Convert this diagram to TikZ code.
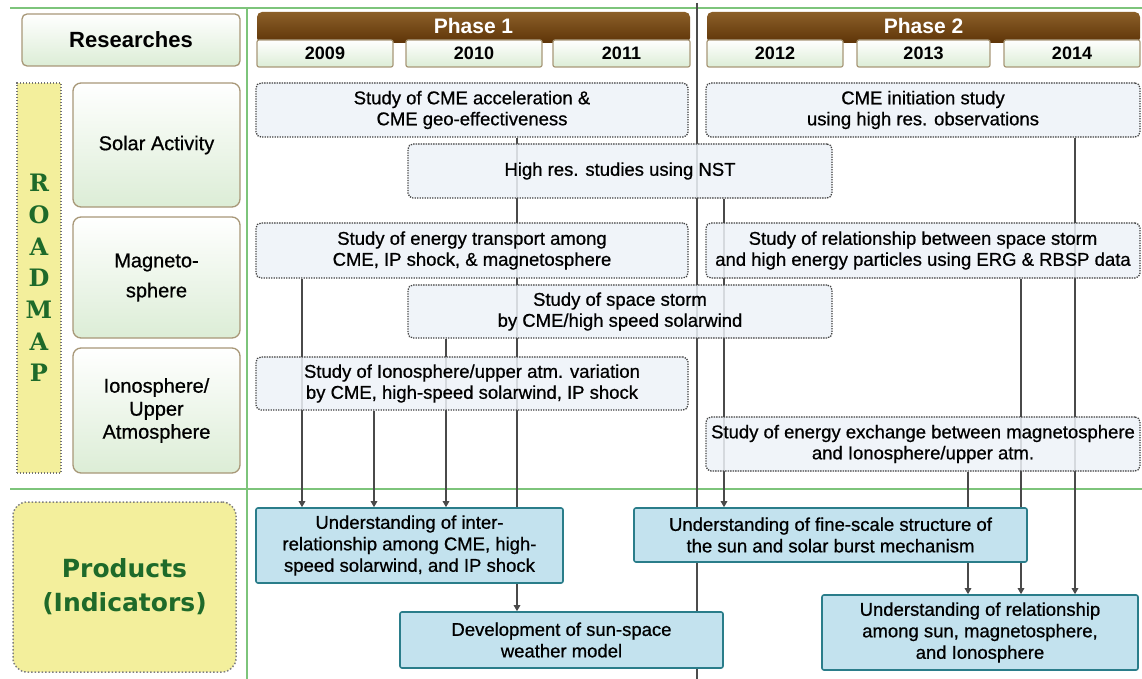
\documentclass[tikz,border=0pt]{standalone}
\usepackage{fontspec}
\setmainfont{Liberation Sans}
\newfontfamily\bxf[BoldFont={Liberation Sans},BoldFeatures={FakeBold=0.7}]{Liberation Sans}
\newfontfamily\rmf{DejaVu Serif}
\newfontfamily\prf{DejaVu Sans}
\usetikzlibrary{arrows.meta}
\pgfdeclarelayer{bgzero}
\pgfdeclarelayer{background}
\pgfsetlayers{bgzero,background,main}
\definecolor{gline}{HTML}{7DC47B}
\definecolor{tanc}{HTML}{A89878}
\definecolor{lgreen}{HTML}{DCEDD6}
\definecolor{rfill}{HTML}{EEF3F9}
\definecolor{pfill}{HTML}{C3E2EE}
\definecolor{pborder}{HTML}{2A7D8A}
\definecolor{yell}{HTML}{F3EF9C}
\definecolor{dgreen}{HTML}{1E6A2A}
\definecolor{brownD}{HTML}{5E3408}
\definecolor{brownL}{HTML}{A4702F}
\definecolor{connc}{HTML}{4A4A4A}
\begin{document}
\begin{tikzpicture}[x=1pt,y=-1pt,
  hdrbox/.style={draw=tanc, line width=1.3pt, rounded corners=5pt, top color=white, bottom color=lgreen, font=\fontsize{22}{24}\selectfont\bfseries, inner sep=0pt},
  yearbox/.style={draw=tanc, line width=1.2pt, rounded corners=2pt, top color=white, bottom color=lgreen, font=\fontsize{18}{20}\selectfont\bfseries, minimum height=27pt, inner sep=0pt},
  phasebar/.style={rounded corners=5pt, top color=brownL!85!black, bottom color=brownD, text=white, font=\fontsize{21}{23}\selectfont\bfseries, inner sep=0pt},
  catbox/.style={draw=tanc, line width=1.3pt, rounded corners=8pt, top color=white, bottom color=lgreen, align=center, font=\bxf\bfseries\fontsize{20}{23}\selectfont, minimum width=167pt, inner sep=0pt},
  rmbar/.style={draw=black!55, line width=1.4pt, dash pattern=on 1.4pt off 1.6pt, fill=yell, align=center, text=dgreen, font=\rmf\bfseries\fontsize{24}{31.7}\selectfont, inner sep=0pt},
  prodbox/.style={draw=black!50, line width=1.5pt, dash pattern=on 1.5pt off 2pt, rounded corners=14pt, fill=yell, align=center, text=dgreen, font=\prf\bfseries\fontsize{25}{34}\selectfont, inner sep=0pt},
  rbox/.style={draw=black!75, line width=1.3pt, dash pattern=on 1.3pt off 1.2pt, rounded corners=5pt, fill=rfill, fill opacity=0.85, text opacity=1, align=center, font=\bxf\bfseries\fontsize{18.5}{21}\selectfont, inner sep=0pt},
  pbox/.style={draw=pborder, line width=1.6pt, rounded corners=2pt, fill=pfill, align=center, font=\bxf\bfseries\fontsize{18.5}{21.5}\selectfont, inner sep=0pt},
  arr/.style={draw=connc, line width=1.3pt, -{Triangle[length=6pt,width=6.5pt]}},
  gl/.style={draw=gline, line width=2pt},
  dv/.style={draw=black!70, line width=1.3pt}
]
\useasboundingbox (0,0) rectangle (1142,679);
\begin{pgfonlayer}{bgzero}
\fill[white] (0,0) rectangle (1142,679);
\end{pgfonlayer}

% header
\node[hdrbox, minimum width=218pt, minimum height=52pt] (res) at (131,40) {Researches};
\node[phasebar, minimum width=433pt, minimum height=31pt] (ph1) at (473.5,27.5) {\raisebox{3pt}{Phase 1}};
\node[phasebar, minimum width=433pt, minimum height=31pt] (ph2) at (923.5,27.5) {\raisebox{3pt}{Phase 2}};
\node[yearbox, minimum width=136pt] (y09) at (325,53.5) {2009};
\node[yearbox, minimum width=136pt] (y10) at (474,53.5) {2010};
\node[yearbox, minimum width=137pt] (y11) at (621.5,53.5) {2011};
\node[yearbox, minimum width=136pt] (y12) at (775,53.5) {2012};
\node[yearbox, minimum width=133pt] (y13) at (923.5,53.5) {2013};
\node[yearbox, minimum width=136pt] (y14) at (1072,53.5) {2014};

% left column
\node[rmbar, minimum width=44pt, minimum height=390pt] (rm) at (39,278) {R\\O\\A\\D\\M\\A\\P};
\node[catbox, minimum height=124pt] (sa) at (156.5,145) {Solar Activity};
\node[catbox, minimum height=121pt] (mg) at (156.5,277.5) {Magneto-\\[7pt]sphere};
\node[catbox, minimum height=125pt] (io) at (156.5,410.5) {Ionosphere/\\Upper\\Atmosphere};
\node[prodbox, minimum width=223pt, minimum height=170pt] (prod) at (124.5,587) {Products\\(Indicators)};

% research boxes
\node[rbox, minimum width=432pt, minimum height=54pt] (r1) at (472,110) {Study of CME acceleration \&\\CME geo-effectiveness};
\node[rbox, minimum width=434pt, minimum height=54pt] (r2) at (923,110) {CME initiation study\\using high res. observations};
\node[rbox, minimum width=424pt, minimum height=54pt] (r3) at (620,171) {High res. studies using NST};
\node[rbox, minimum width=432pt, minimum height=55pt] (r4) at (472,250.5) {Study of energy transport among\\CME, IP shock, \& magnetosphere};
\node[rbox, minimum width=434pt, minimum height=55pt] (r5) at (923,250.5) {Study of relationship between space storm\\and high energy particles using ERG \& RBSP data};
\node[rbox, minimum width=424pt, minimum height=53pt] (r6) at (620,311.5) {Study of space storm\\by CME/high speed solarwind};
\node[rbox, minimum width=432pt, minimum height=53pt] (r7) at (472,383.5) {Study of Ionosphere/upper atm. variation\\by CME, high-speed solarwind, IP shock};
\node[rbox, minimum width=434pt, minimum height=54pt] (r8) at (923,444) {Study of energy exchange between magnetosphere\\and Ionosphere/upper atm.};

% product boxes
\node[pbox, minimum width=307pt, minimum height=75pt] (p1) at (409.5,545.5) {Understanding of inter-\\relationship among CME, high-\\speed solarwind, and IP shock};
\node[pbox, minimum width=393pt, minimum height=54pt] (p2) at (830.5,535) {Understanding of fine-scale structure of\\the sun and solar burst mechanism};
\node[pbox, minimum width=323pt, minimum height=56pt] (p3) at (561.5,640) {Development of sun-space\\weather model};
\node[pbox, minimum width=316pt, minimum height=75pt] (p4) at (980,632.5) {Understanding of relationship\\among sun, magnetosphere,\\and Ionosphere};

% grid lines and connectors
\coordinate (gTL) at (10,8);
\coordinate (gTR) at (1142,8);
\coordinate (gML) at (10,489);
\coordinate (gMR) at (1142,489);
\coordinate (gVT) at (247,8);
\coordinate (gVB) at (247,679);
\coordinate (dvT) at (697,3);
\coordinate (dvB) at (697,679);
\coordinate (xa) at (302,0);
\coordinate (xb) at (374,0);
\coordinate (xc) at (446,0);
\coordinate (xd) at (517,0);
\coordinate (xe) at (724,0);
\coordinate (xf) at (968,0);
\coordinate (xg) at (1021,0);
\coordinate (xh) at (1075,0);
\begin{pgfonlayer}{background}
\draw[gl] (gTL) -- (gTR);
\draw[gl] (gML) -- (gMR);
\draw[gl] (gVT) -- (gVB);
\draw[dv] (dvT) -- (dvB);
\draw[arr] (r4.south -| xa) -- (p1.north -| xa);
\draw[arr] (r7.south -| xb) -- (p1.north -| xb);
\draw[arr] (r6.south -| xc) -- (p1.north -| xc);
\draw[arr] (r1.south -| xd) -- (p3.north -| xd);
\draw[arr] (r3.south -| xe) -- (p2.north -| xe);
\draw[arr] (r8.south -| xf) -- (p4.north -| xf);
\draw[arr] (r5.south -| xg) -- (p4.north -| xg);
\draw[arr] (r2.south -| xh) -- (p4.north -| xh);
\end{pgfonlayer}
\end{tikzpicture}
\end{document}
